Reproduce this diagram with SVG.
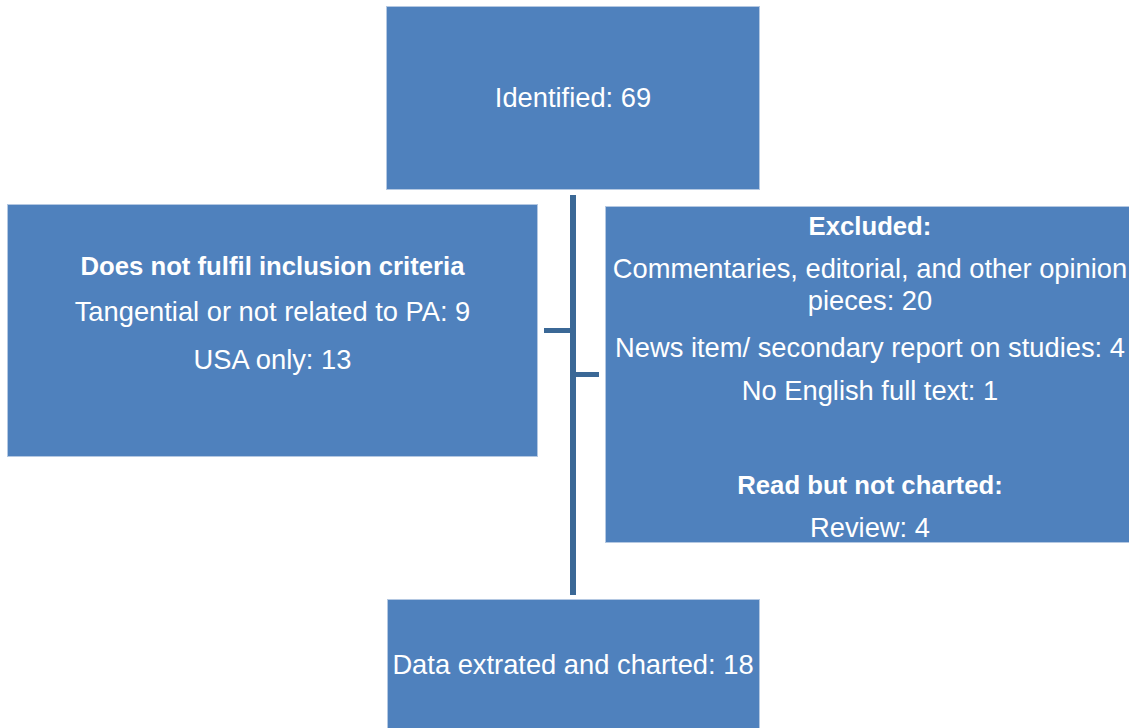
<svg xmlns="http://www.w3.org/2000/svg" width="1129" height="728" viewBox="0 0 1129 728">
<style>
.box{fill:#4F81BD;stroke:#B4C8E2;stroke-width:1}
.t{font-family:"Liberation Sans",Arial,sans-serif;font-size:27.3px;fill:#FFFFFF;text-anchor:middle}
.b{font-weight:bold;font-size:25.7px}
.ln{fill:#3B6896}
</style>
<rect width="1129" height="728" fill="#FFFFFF"/>
<g id="connectors">
<rect class="ln" x="570" y="195" width="6" height="400"/>
<rect class="ln" x="544" y="328" width="26" height="5"/>
<rect class="ln" x="576" y="372" width="23" height="5"/>
</g>
<g id="identified">
<rect class="box" x="386.5" y="6.5" width="373" height="183"/>
<text class="t" x="573" y="107">Identified: 69</text>
</g>
<g id="not-fulfil">
<rect class="box" x="7.5" y="204.5" width="530" height="252"/>
<text class="t b" x="272.5" y="275">Does not fulfil inclusion criteria</text>
<text class="t" x="272.5" y="321">Tangential or not related to PA: 9</text>
<text class="t" x="272.5" y="369">USA only: 13</text>
</g>
<g id="excluded">
<rect class="box" x="605.5" y="206.5" width="530" height="336"/>
<text class="t b" x="870" y="235">Excluded:</text>
<text class="t" x="870" y="278">Commentaries, editorial, and other opinion</text>
<text class="t" x="870" y="310">pieces: 20</text>
<text class="t" x="870" y="357">News item/ secondary report on studies: 4</text>
<text class="t" x="870" y="400">No English full text: 1</text>
<text class="t b" x="870" y="494">Read but not charted:</text>
<text class="t" x="870" y="537">Review: 4</text>
</g>
<g id="charted">
<rect class="box" x="387.5" y="599.5" width="372" height="140"/>
<text class="t" x="573" y="674">Data extrated and charted: 18</text>
</g>
</svg>
